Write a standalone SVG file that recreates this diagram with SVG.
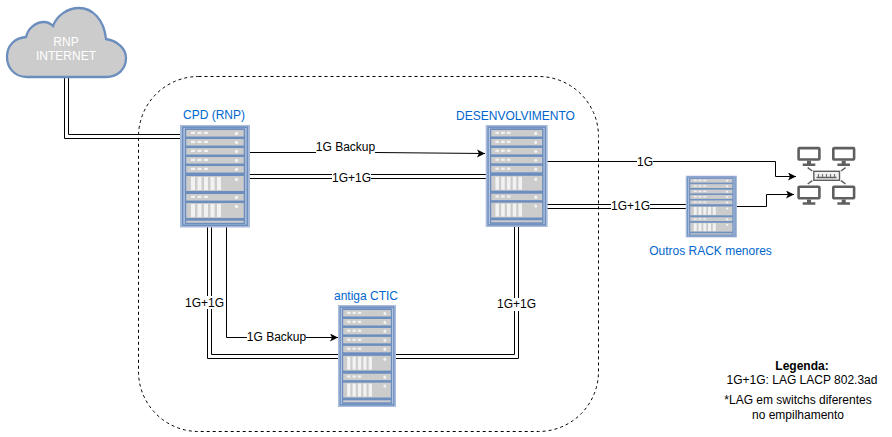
<svg xmlns="http://www.w3.org/2000/svg" width="892" height="437" viewBox="0 0 892 437">
<style>
text{font-family:"Liberation Sans",Arial,sans-serif;font-size:12px;text-anchor:middle;fill:#000}
.blue{fill:#0066cc}
.w{fill:#fff}
.c{fill:none;stroke:#000;stroke-width:1}
.lb{fill:#fff}
.u{fill:#cccccc;stroke:#6c8ebf;stroke-width:1.5}
.l{fill:#f2f2f2}
.m{fill:#5f5f5f}
.pc{fill:#fff;stroke:#5f5f5f;stroke-width:2.6}
.pl{stroke:#5f5f5f;stroke-width:1.5;fill:none}
</style>
<defs>
<marker id="arr" markerWidth="10" markerHeight="10" refX="8" refY="4" orient="auto" markerUnits="userSpaceOnUse"><path d="M0,0 L8,4 L0,8 L2,4 Z" fill="#000"/></marker>
<symbol id="rack" viewBox="0 0 70 102.5" preserveAspectRatio="none" overflow="visible">
<rect x="0" y="0" width="70" height="102.500" fill="#a9bbdb"/>
<rect x="2.700" y="2.200" width="64.600" height="98.100" fill="#b9c7e0" stroke="#6c8ebf" stroke-width="1.500"/>
<rect x="5.200" y="3.500" width="59.600" height="95.500" fill="#6c8ebf"/>
<g id="ru">
<rect class="u" x="5.500" y="4.300" width="59" height="8"/>
<rect class="l" x="11" y="6.800" width="4" height="2.200"/><rect class="l" x="17.500" y="6.800" width="4" height="2.200"/><rect class="l" x="24" y="6.800" width="4" height="2.200"/><circle class="l" cx="56.500" cy="8.500" r="1.700"/>
</g>
<use href="#ru" y="9"/><use href="#ru" y="18"/><use href="#ru" y="27"/><use href="#ru" y="36"/>
<g id="rb">
<rect class="u" x="5.500" y="50.300" width="59" height="16.400"/>
<rect class="l" x="11" y="52" width="4" height="13"/><rect class="l" x="17.500" y="52" width="4" height="13"/><rect class="l" x="24" y="52" width="4" height="13"/><rect class="l" x="30.500" y="52" width="4" height="13"/><rect class="l" x="37" y="52" width="4" height="13"/><circle class="l" cx="56.500" cy="54.500" r="1.700"/>
</g>
<use href="#ru" y="64"/>
<use href="#rb" y="27"/>
<rect class="u" x="5.500" y="95" width="59" height="3.500"/>
</symbol>
<g id="mon">
<rect class="pc" x="1.300" y="1.300" width="20.800" height="11.400" rx="0.800"/>
<path class="m" d="M9.700,14 h4 v2.800 h4.300 v2.400 h-12.600 v-2.400 h4.300 z"/>
</g>
</defs>

<rect id="boundary" x="138.500" y="76.500" width="460" height="355" rx="60" ry="60" fill="none" stroke="#000" stroke-dasharray="3 3"/>

<g id="connectors">
<path class="c" d="M64.500,77 V138.500 H181"/>
<path class="c" d="M68.500,77 V134.500 H181"/>
<path class="c" d="M249,152.500 H316 M375,152.500 L485,153.500" marker-end="url(#arr)"/>
<path class="c" d="M249,174.500 H487"/>
<path class="c" d="M249,178.500 H487"/>
<path class="c" d="M207.500,227 V358.500 H338"/>
<path class="c" d="M211.500,227 V354.500 H338"/>
<path class="c" d="M226.500,227 V337.500 H338" marker-end="url(#arr)"/>
<path class="c" d="M395,354.500 H514.500 V227"/>
<path class="c" d="M395,358.500 H518.500 V227"/>
<path class="c" d="M547,161.500 H775.500 V176.500 H796" marker-end="url(#arr)"/>
<path class="c" d="M547,204.500 H686"/>
<path class="c" d="M547,208.500 H686"/>
<path class="c" d="M737,206.500 H766.500 V194.500 H794" marker-end="url(#arr)"/>
<rect class="lb" x="316" y="140" width="59" height="14"/><text x="345.500" y="151">1G Backup</text>
<rect class="lb" x="332" y="171" width="39" height="13"/><text x="351.500" y="182">1G+1G</text>
<rect class="lb" x="185" y="296" width="39" height="13"/><text x="204.500" y="307">1G+1G</text>
<rect class="lb" x="247" y="331" width="59" height="13"/><text x="276.500" y="341">1G Backup</text>
<rect class="lb" x="497" y="298" width="39" height="13"/><text x="516.500" y="308">1G+1G</text>
<rect class="lb" x="637" y="156" width="16" height="12"/><text x="645" y="166">1G</text>
<rect class="lb" x="611" y="200" width="39" height="13"/><text x="630.500" y="210">1G+1G</text>
</g>

<g id="cloud">
<path d="M27,77 C13,77 7,66 7,57 C7,46 14,38 26,37 C28,28 36,22 44,22 C48,22 51,24 53,26 C57,15 68,8 79,8 C92,8 104,19 106,39 C118,41 126,49 126,58 C126,69 118,77 106,77 Z" fill="#cccccc" stroke="#6c8ebf" stroke-width="2.300"/>
<text class="w" x="66" y="46">RNP</text>
<text class="w" x="66" y="60">INTERNET</text>
</g>

<g id="cpd"><use href="#rack" x="180" y="125" width="70" height="102.500"/><text class="blue" x="214" y="119">CPD (RNP)</text></g>
<g id="desenvolvimento"><use href="#rack" x="485.700" y="125" width="62" height="102"/><text class="blue" x="515.500" y="120">DESENVOLVIMENTO</text></g>
<g id="antiga-ctic"><use href="#rack" x="338" y="305" width="58" height="102"/><text class="blue" x="366" y="300">antiga CTIC</text></g>
<g id="outros-rack"><use href="#rack" x="685.700" y="175.700" width="51.300" height="61.700"/><text class="blue" x="710.500" y="255">Outros RACK menores</text></g>

<g id="network">
<use href="#mon" x="797.300" y="146.800"/><use href="#mon" x="832" y="146.800"/><use href="#mon" x="797.300" y="185.500"/><use href="#mon" x="832" y="185.500"/>
<rect x="813.800" y="171.300" width="25.700" height="9" fill="#f2f2f2" stroke="#5f5f5f" stroke-width="1.400"/>
<path class="pl" d="M816.500,177.500 H836.500"/>
<path d="M818.500,174 V177 M822.500,174 V177 M826.500,174 V177 M830.500,174 V177 M834.500,174 V177" stroke="#777" stroke-width="1.200" fill="none"/>
<path class="pl" d="M807.700,167.700 L812.300,171 M845.500,167.700 L841,171 M807.700,184 L812.300,180.700 M845.500,184 L841,180.700"/>
</g>

<g id="legend">
<text x="802" y="370" style="font-weight:bold">Legenda:</text>
<text x="802" y="384">1G+1G: LAG LACP 802.3ad</text>
<text x="798" y="404">*LAG em switchs diferentes</text>
<text x="798" y="419">no empilhamento</text>
</g>
</svg>
